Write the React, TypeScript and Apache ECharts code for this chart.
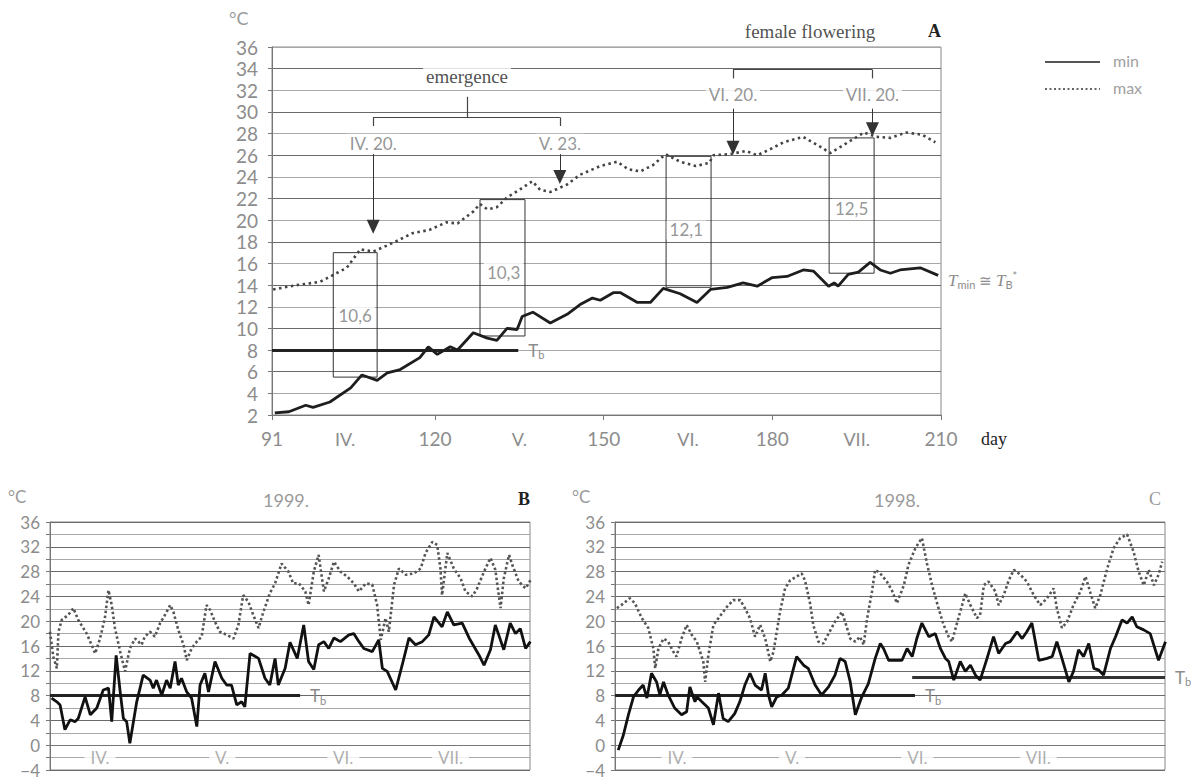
import React, { useEffect, useRef } from 'react';
import * as echarts from 'echarts';

// ---------- Panel A (mean daily min / max) ----------
const aMin: number[][] = [[91.5,2.2],[94,2.3],[97,2.9],[98.3,2.7],[101.3,3.2],[105,4.5],[107,5.7],[109.7,5.2],[111.5,5.9],[113.8,6.2],[117.3,7.3],[118.8,8.3],[120.4,7.6],[122.7,8.3],[124,8.0],[126.8,9.6],[129.3,9.1],[131,8.9],[132.8,10.0],[134.6,9.9],[135.5,11.1],[137.4,11.5],[140.5,10.5],[143.5,11.3],[145.8,12.2],[148,12.8],[149.4,12.6],[151.7,13.3],[153,13.3],[156,12.4],[158.3,12.4],[160.6,13.7],[163.6,13.2],[166.6,12.4],[169,13.6],[172,13.8],[174.8,14.2],[177.3,13.9],[180,14.7],[182.6,14.8],[185.5,15.4],[187.3,15.3],[190,13.9],[191,14.2],[191.7,13.9],[193.5,15],[195.3,15.2],[197.4,16.1],[199.2,15.4],[201,15.1],[202.7,15.4],[206.3,15.6],[209.5,14.9]];
const aMax: number[][] = [[91.2,13.6],[95.4,14.0],[99.5,14.3],[101,14.7],[104.3,15.6],[106.7,17.3],[109,17.1],[112.5,17.9],[116,18.8],[119,19.1],[122,19.8],[124,19.7],[126.8,20.8],[128,21.5],[129.3,21.0],[131,21.2],[132.8,22.1],[135,22.8],[137.3,23.6],[138.7,22.8],[140.5,22.6],[143.5,23.3],[145.8,24.2],[149.4,25.0],[152.4,25.4],[154.4,24.7],[156.5,24.5],[158.8,25.1],[161,26.1],[163.6,25.4],[166.4,25.0],[168.8,25.3],[169.5,26.0],[172.5,26.1],[175.3,26.4],[177.3,26.0],[179.4,26.5],[182,27.2],[185.5,27.7],[188.5,26.8],[190.3,26.2],[192.2,26.8],[194.4,27.5],[196.3,28.1],[198.5,27.7],[201,27.6],[203.8,28.1],[206.6,27.9],[209,27.2]];
const aDayTicks = [91, 120, 150, 180, 210];
const aMonthDays = [104, 135, 165, 195];
const monthNames = ['IV.', 'V.', 'VI.', 'VII.'];
// boxes: [dayFrom, top, dayTo, bottom, label, labelDay, labelTemp]
const aBoxes: (number | string)[][] = [
  [101.9, 17.0, 109.7, 5.5, '10,6', 105.8, 11.2],
  [128, 21.9, 136, 9.3, '10,3', 132.2, 15.2],
  [161.1, 25.9, 169.1, 13.8, '12,1', 164.7, 19.1],
  [190.1, 27.6, 198.1, 15.1, '12,5', 194.1, 21.1],
];
// arrows: [day, from, to, label, labelTemp]
const aArrows: (number | string)[][] = [
  [109, 26.1, 19.4, 'IV. 20.', 27.1],
  [142.2, 26.1, 24.0, 'V. 23.', 27.1],
  [173, 30.3, 26.7, 'VI. 20.', 31.6],
  [197.8, 30.3, 28.4, 'VII. 20.', 31.6],
];
const aTb = [91, 134.8, 8];

// ---------- Panel B (1999) ----------
const bMin: number[][] = [[91.4,7.6],[92.7,7.0],[93.5,6.5],[94.7,2.5],[96,4.1],[97.2,3.8],[98,4.3],[99.7,7.8],[101,4.9],[102.6,6.0],[104.2,8.9],[105.5,9.2],[106.3,3.8],[107.4,14.5],[108.4,8.6],[109.2,4.3],[110,3.8],[110.8,0.3],[112.5,7.0],[114.1,11.3],[115.8,10.5],[116.6,9.2],[117.4,10.5],[118.7,8.1],[119.9,10.5],[120.8,9.2],[122,13.5],[122.8,9.7],[123.6,10.8],[124.9,8.6],[126.1,7.6],[127.4,3.0],[128.2,9.7],[129.4,11.6],[130.3,8.6],[131.9,13.5],[133.6,10.8],[134.8,9.7],[136,9.7],[137.3,6.5],[138.5,7.0],[139.3,6.2],[140.6,14.8],[142.7,14.0],[144.3,10.8],[145.5,9.7],[146.8,14.0],[147.6,9.7],[149.3,12.4],[150.5,16.6],[152.3,14.0],[153.9,19.4],[155.1,13.5],[156.4,12.2],[157.6,16.2],[158.9,16.7],[160.1,15.6],[161.4,17.3],[163,16.7],[165.1,17.8],[166.3,18.0],[167.6,16.7],[168.8,15.6],[170.9,15.1],[172.5,17.0],[173.4,12.4],[174.6,11.9],[176.7,8.9],[178.3,12.9],[180,17.3],[181.6,16.2],[183.3,16.7],[184.9,17.8],[186.2,20.7],[188.2,19.1],[189.5,21.5],[191.1,19.4],[193.2,19.7],[194.9,17.3],[197.3,14.6],[198.6,12.9],[200.2,15.4],[201.4,19.4],[203.5,15.4],[205.1,19.7],[206.4,18.0],[207.6,18.8],[208.9,15.6],[210.1,16.7]];
const bMax: number[][] = [[91,18.3],[91.8,14.3],[92.7,12.4],[93.1,18.3],[93.9,20.2],[95.5,21.0],[96.8,22.1],[98,20.2],[100.1,18.0],[101.3,16.2],[102.2,14.8],[103.4,17.2],[104.6,20.5],[105.5,25.0],[106.3,22.6],[107.1,18.9],[108.4,15.1],[109.6,11.9],[110.8,15.6],[112.1,17.2],[113.7,16.2],[114.5,17.5],[115.8,18.3],[117,17.5],[118.3,19.7],[119.5,21.0],[120.8,22.6],[121.6,21.5],[122.8,18.6],[124.1,16.2],[124.9,13.7],[126.1,15.6],[127.4,16.7],[128.6,17.5],[129.8,22.6],[130.7,21.8],[131.9,19.9],[133.1,18.3],[134.8,17.8],[136.5,17.2],[137.7,19.4],[138.9,24.2],[140.2,23.1],[141.4,21.0],[142.7,18.9],[143.9,21.5],[145.5,24.5],[146.8,26.1],[148.4,29.3],[150.1,28.0],[151.3,26.1],[152.7,26.1],[154.3,24.8],[155.1,22.6],[156.4,28.0],[157.6,30.7],[158.9,24.8],[160.1,26.9],[161.4,29.6],[163,28.0],[164.7,27.2],[166.3,26.1],[167.6,24.8],[169.3,26.1],[170.9,25.9],[172.1,22.6],[173,17.0],[174.2,20.5],[175,18.3],[176.3,25.9],[177.5,28.5],[179.2,27.5],[181.2,27.7],[182.9,28.5],[184.1,31.0],[185.8,32.8],[187,32.3],[187.8,28.5],[188.2,24.2],[189.5,31.0],[191.1,28.5],[192.8,26.9],[194,24.8],[195.7,24.0],[196.9,25.3],[198.6,28.0],[200.2,30.2],[201.4,28.3],[202.7,22.1],[203.5,26.9],[204.8,30.7],[205.6,29.1],[207.2,26.4],[208.9,25.3],[210.1,26.6]];
const bMonthDays = [103.4, 133.7, 163.7, 190.3];
const bTb = [91, 153, 8];

// ---------- Panel C (1998) ----------
const cMin: number[][] = [[91.7,-0.8],[92.8,1.6],[93.9,4.9],[95,7.8],[96.1,8.9],[97.1,9.7],[97.9,7.6],[98.9,11.6],[100,10.2],[100.7,8.1],[101.5,10.2],[102.5,8.1],[103.9,6.0],[105.4,4.9],[106.5,5.4],[107.2,9.4],[108.3,7.0],[108.7,7.8],[109.8,7.0],[111.2,6.0],[112.3,3.3],[113.4,8.4],[114.4,4.3],[115.5,3.8],[116.9,5.1],[118,7.0],[119.1,9.7],[120.2,11.6],[121.3,9.7],[122.7,8.9],[123.5,11.6],[124.2,8.1],[124.9,6.2],[126,7.8],[127.1,8.1],[128.5,9.2],[130.3,14.3],[131.8,12.9],[132.8,12.4],[134.3,9.7],[135.7,8.1],[137.2,9.4],[138.6,11.3],[139.7,14.0],[140.8,13.5],[141.9,10.2],[143,4.9],[144.4,7.8],[145.8,9.9],[147.3,14.0],[148.4,16.4],[149.1,15.6],[150.2,13.7],[151.6,13.7],[153.1,13.7],[154.2,15.6],[155.3,14.3],[156.3,17.2],[157.4,19.7],[158.9,17.5],[160.3,18.0],[161.4,15.6],[162.5,14.0],[163.2,13.5],[164.3,10.5],[165.7,13.5],[166.8,11.9],[167.9,12.9],[169,11.3],[170,10.5],[171.5,14.0],[172.9,17.5],[174,14.8],[175.5,16.4],[176.5,16.7],[178,18.3],[179.1,17.2],[180.1,18.3],[181.2,19.7],[182.7,13.7],[184.5,14.0],[185.6,14.3],[186.6,16.7],[187.7,14.0],[189.2,10.2],[190.2,11.9],[191.3,15.4],[192.4,14.3],[193.5,16.4],[194.6,12.4],[195.7,12.1],[196.7,11.3],[198.2,15.6],[199.3,17.5],[200.7,20.2],[201.8,19.7],[202.9,20.7],[203.9,19.1],[205.4,18.6],[206.8,18.0],[208.6,13.7],[210.1,16.7]];
const cMax: number[][] = [[91.4,22.1],[92.4,22.6],[94.2,23.7],[95.3,22.9],[96.8,20.5],[98.2,18.9],[99.3,15.6],[99.7,12.4],[100.4,15.6],[101.5,17.2],[102.5,16.7],[103.6,15.1],[104.3,14.3],[105.4,17.2],[106.5,19.4],[107.6,17.8],[108.7,16.7],[109.4,15.1],[110.1,13.5],[110.5,10.2],[111.2,14.5],[112.3,19.4],[113.4,20.5],[115.2,22.3],[116.6,23.4],[118.1,23.4],[119.1,22.1],[120.2,20.5],[121.3,17.5],[122.4,19.4],[123.5,17.2],[124.6,13.5],[125.3,15.1],[126,18.3],[126.7,21.5],[127.8,25.3],[128.9,26.6],[130.3,27.2],[131.4,27.7],[132.1,26.6],[133.2,22.9],[133.9,19.4],[135,16.7],[136.1,16.4],[137.2,18.0],[138.6,19.9],[140.1,21.5],[140.8,19.9],[141.9,17.2],[143,16.7],[144,17.5],[144.8,16.2],[145.5,20.2],[146.6,24.8],[147.3,28.3],[148.4,27.7],[149.8,26.4],[150.9,25.0],[152,22.9],[153.5,25.8],[154.5,29.1],[156,31.8],[157.4,33.4],[158.5,29.3],[159.6,25.8],[161,22.1],[162.1,19.4],[163.2,17.5],[163.9,16.7],[165,19.7],[166.1,22.6],[166.8,24.5],[167.9,22.6],[169.3,20.5],[170,21.0],[170.8,25.8],[171.8,26.4],[173.3,24.8],[174,22.6],[175.1,24.2],[176.2,26.6],[177.3,28.3],[178.7,27.5],[180.1,26.4],[181.6,24.2],[183,22.6],[184.5,23.7],[185.9,25.3],[186.6,22.1],[187.7,18.9],[188.8,19.9],[190.2,22.6],[191.7,24.8],[192.8,27.2],[193.9,24.5],[194.9,22.1],[196,24.2],[197.5,28.5],[198.9,31.8],[200.3,33.4],[201.8,34.0],[203.2,31.2],[204.3,28.0],[205.4,25.8],[206.5,28.3],[207.6,25.8],[208.6,27.5],[209.4,29.6]];
const cMonthDays = [104.4, 129.3, 156.4, 182.6];
const cTb1 = [91, 155.9, 8];
const cTb2 = [155.3, 210, 11];

const GRAY = '#8c8c8c';
const LABEL_FONT = 'Lato, "Open Sans", sans-serif';
const SERIF = '"Liberation Serif", "DejaVu Serif", serif';

const tbRich = {
  t: { fontSize: 17, color: GRAY, fontFamily: LABEL_FONT },
  s: { fontSize: 11, color: GRAY, fontFamily: LABEL_FONT, padding: [9, 0, 0, 0] },
};

function gridAxisY(gridIndex: number, min: number, max: number, every: number, fontSize: number, margin: number) {
  return {
    type: 'value', gridIndex, min, max, interval: 2,
    axisLine: { show: true, lineStyle: { color: '#777' } },
    axisTick: { show: true, length: 4, lineStyle: { color: '#777' } },
    axisLabel: {
      color: GRAY, fontSize, fontFamily: LABEL_FONT, margin,
      formatter: (v: number) => (Math.round(v) % every === 0 ? (v < 0 ? '\u2212' + Math.abs(v) : String(v)) : ''),
    },
    splitLine: { show: true, lineStyle: { color: ['#6a6a6a', '#a8a8a8'], width: 1 } },
  };
}

function plainX(gridIndex: number) {
  return {
    type: 'value', gridIndex, min: 91, max: 210,
    axisLabel: { show: false }, axisTick: { show: false },
    axisLine: { show: true, lineStyle: { color: '#777' } },
    splitLine: { show: false },
  };
}

function monthLabelSeries(xi: number, yi: number, days: number[]) {
  return {
    type: 'scatter', xAxisIndex: xi, yAxisIndex: yi, symbolSize: 0, silent: true, clip: false, z: 4,
    data: days.map((d, i) => ({ name: monthNames[i], value: [d, -2] })),
    label: {
      show: true, position: 'inside', formatter: '{b}', color: '#9a9a9a', fontSize: 17,
      fontFamily: LABEL_FONT, backgroundColor: '#fff', padding: [1, 6],
    },
  };
}

function tbLine(from: number[], color: string) {
  return [
    {
      coord: [from[0], from[2]], lineStyle: { width: 3, color, type: 'solid' },
      label: { show: true, position: 'end', distance: 10, formatter: '{t|T}{s|b}', rich: tbRich },
    },
    { coord: [from[1], from[2]] },
  ];
}

export default function App() {
  const ref = useRef<HTMLDivElement>(null);
  useEffect(() => {
    const chart = echarts.init(ref.current!, undefined, { renderer: 'svg' });

    const aMarkLines: any[] = [tbLine(aTb, '#222')];
    aArrows.forEach((a) => {
      aMarkLines.push([
        { coord: [a[0], a[1]], symbol: 'none', lineStyle: { width: 1, color: '#333', type: 'solid' } },
        { coord: [a[0], a[2]], symbol: 'triangle', symbolSize: [13, 14] },
      ]);
    });
    const br = (x1: number, y1: number, x2: number, y2: number) => [
      { coord: [x1, y1], lineStyle: { width: 1.2, color: '#444', type: 'solid' } },
      { coord: [x2, y2] },
    ];
    // emergence bracket
    aMarkLines.push(br(109, 29.5, 142.2, 29.5));
    aMarkLines.push(br(109, 29.5, 109, 28.7));
    aMarkLines.push(br(142.2, 29.5, 142.2, 28.7));
    aMarkLines.push(br(125.7, 31.4, 125.7, 29.5));
    // female flowering bracket
    aMarkLines.push(br(173, 33.9, 197.8, 33.9));
    aMarkLines.push(br(173, 33.9, 173, 33.1));
    aMarkLines.push(br(197.8, 33.9, 197.8, 33.1));
    aMarkLines.push(br(186.2, 36.5, 186.2, 33.9));

    const aLabels: any[] = [];
    aBoxes.forEach((b) => aLabels.push({ name: b[4], value: [b[5], b[6]] }));
    aArrows.forEach((a) => aLabels.push({ name: a[3], value: [a[0], a[4]] }));

    const option: any = {
      animation: false,
      backgroundColor: '#fff',
      textStyle: { fontFamily: LABEL_FONT },
      grid: [
        { left: 272, top: 47, width: 669, height: 368, show: true, borderColor: '#888', borderWidth: 1, containLabel: false },
        { left: 50, top: 522, width: 480, height: 248, show: true, borderColor: '#888', borderWidth: 1, containLabel: false },
        { left: 615, top: 522, width: 550, height: 248, show: true, borderColor: '#888', borderWidth: 1, containLabel: false },
      ],
      xAxis: [
        {
          type: 'value', gridIndex: 0, min: 91, max: 210,
          axisLine: { show: true, lineStyle: { color: '#777' } },
          axisTick: { show: true, customValues: aDayTicks, length: 5, lineStyle: { color: '#777' } },
          axisLabel: { customValues: aDayTicks, color: GRAY, fontSize: 19, fontFamily: LABEL_FONT, margin: 14 },
          splitLine: { show: false },
        },
        {
          type: 'value', gridIndex: 0, min: 91, max: 210, position: 'bottom', offset: 0,
          axisLine: { show: false }, axisTick: { show: false }, splitLine: { show: false },
          axisLabel: {
            customValues: aMonthDays, color: GRAY, fontSize: 18, fontFamily: LABEL_FONT, margin: 15,
            formatter: (v: number) => monthNames[aMonthDays.indexOf(v)] || '',
          },
        },
        plainX(1),
        plainX(2),
      ],
      yAxis: [
        gridAxisY(0, 2, 36, 2, 19, 14),
        gridAxisY(1, -4, 36, 4, 17, 10),
        gridAxisY(2, -4, 36, 4, 17, 10),
      ],
      graphic: [
        { type: 'text', left: 229, top: 9, style: { text: '\u00B0C', fill: '#9a9a9a', fontSize: 18, fontFamily: LABEL_FONT } },
        { type: 'text', left: 928, top: 22, style: { text: 'A', fill: '#222', fontSize: 18, fontWeight: 'bold', fontFamily: SERIF } },
        { type: 'text', left: 981, top: 430, style: { text: 'day', fill: '#222', fontSize: 18, fontFamily: SERIF } },
        // legend
        { type: 'line', shape: { x1: 1045, y1: 62, x2: 1100, y2: 62 }, style: { stroke: '#555', lineWidth: 2 } },
        { type: 'line', shape: { x1: 1045, y1: 89, x2: 1100, y2: 89 }, style: { stroke: '#666', lineWidth: 2, lineDash: [2, 2.5] } },
        { type: 'text', left: 1113, top: 52, style: { text: 'min', fill: '#a0a0a0', fontSize: 16, fontFamily: LABEL_FONT } },
        { type: 'text', left: 1113, top: 79, style: { text: 'max', fill: '#a0a0a0', fontSize: 16, fontFamily: LABEL_FONT } },
        {
          type: 'text', left: 948, top: 270,
          style: {
            text: '{i|T}{s|min}{n| \u2245 }{i|T}{s|B}{p|*}',
            rich: {
              i: { fontSize: 17, fontStyle: 'italic', fill: GRAY, fontFamily: SERIF },
              n: { fontSize: 15, fill: GRAY, fontFamily: LABEL_FONT },
              s: { fontSize: 11, fill: GRAY, fontFamily: LABEL_FONT, padding: [9, 0, 0, 0] },
              p: { fontSize: 11, fill: GRAY, fontFamily: LABEL_FONT, padding: [0, 0, 9, 0] },
            },
          },
        },
        { type: 'text', left: 8, top: 488, style: { text: '\u00B0C', fill: '#9a9a9a', fontSize: 17, fontFamily: LABEL_FONT } },
        { type: 'text', left: 263, top: 491, style: { text: '1999.', fill: '#9a9a9a', fontSize: 18, fontFamily: LABEL_FONT } },
        { type: 'text', left: 518, top: 490, style: { text: 'B', fill: '#222', fontSize: 18, fontWeight: 'bold', fontFamily: SERIF } },
        { type: 'text', left: 572, top: 488, style: { text: '\u00B0C', fill: '#9a9a9a', fontSize: 17, fontFamily: LABEL_FONT } },
        { type: 'text', left: 874, top: 491, style: { text: '1998.', fill: '#9a9a9a', fontSize: 18, fontFamily: LABEL_FONT } },
        { type: 'text', left: 1149, top: 490, style: { text: 'C', fill: '#9a9a9a', fontSize: 18, fontFamily: SERIF } },
      ],
      series: [
        {
          name: 'min', type: 'line', xAxisIndex: 0, yAxisIndex: 0, data: aMin, symbol: 'none', z: 5,
          lineStyle: { color: '#1e1e1e', width: 2.8 }, itemStyle: { color: '#1e1e1e' },
          markLine: { silent: true, symbol: 'none', animation: false, label: { show: false }, data: aMarkLines },
          markArea: {
            silent: true, animation: false, label: { show: false },
            itemStyle: { color: 'rgba(0,0,0,0)', borderColor: '#333', borderWidth: 1 },
            data: aBoxes.map((b) => [{ xAxis: b[0], yAxis: b[1] }, { xAxis: b[2], yAxis: b[3] }]),
          },
        },
        {
          name: 'max', type: 'line', xAxisIndex: 0, yAxisIndex: 0, data: aMax, symbol: 'none', z: 5,
          lineStyle: { color: '#444', width: 2.6, type: [2.5, 3.5] }, itemStyle: { color: '#444' },
        },
        {
          type: 'scatter', xAxisIndex: 0, yAxisIndex: 0, symbolSize: 0, silent: true, clip: false, z: 6,
          data: aLabels,
          label: {
            show: true, position: 'inside', formatter: '{b}', color: '#7a7a7a', fontSize: 17,
            fontFamily: LABEL_FONT, backgroundColor: '#fff', padding: [1, 3],
          },
        },
        {
          type: 'scatter', xAxisIndex: 0, yAxisIndex: 0, symbolSize: 0, silent: true, clip: false, z: 6,
          data: [
            { name: 'emergence', value: [125.7, 33.3] },
            { name: 'female flowering', value: [186.7, 37.4] },
          ],
          label: {
            show: true, position: 'inside', formatter: '{b}', color: '#222', fontSize: 19,
            fontFamily: SERIF, backgroundColor: '#fff', padding: [0, 3],
          },
        },
        // Panel B
        {
          name: 'min 1999', type: 'line', xAxisIndex: 2, yAxisIndex: 1, data: bMin, symbol: 'none', z: 5,
          lineStyle: { color: '#111', width: 2.8 },
          markLine: { silent: true, symbol: 'none', animation: false, data: [tbLine(bTb, '#222')] },
        },
        {
          name: 'max 1999', type: 'line', xAxisIndex: 2, yAxisIndex: 1, data: bMax, symbol: 'none', z: 5,
          lineStyle: { color: '#555', width: 2.6, type: [2.5, 2.5] },
        },
        monthLabelSeries(2, 1, bMonthDays),
        // Panel C
        {
          name: 'min 1998', type: 'line', xAxisIndex: 3, yAxisIndex: 2, data: cMin, symbol: 'none', z: 5,
          lineStyle: { color: '#111', width: 2.8 },
          markLine: {
            silent: true, symbol: 'none', animation: false,
            data: [tbLine(cTb1, '#222'), tbLine(cTb2, '#333')],
          },
        },
        {
          name: 'max 1998', type: 'line', xAxisIndex: 3, yAxisIndex: 2, data: cMax, symbol: 'none', z: 5,
          lineStyle: { color: '#555', width: 2.6, type: [2.5, 2.5] },
        },
        monthLabelSeries(3, 2, cMonthDays),
      ],
    };
    chart.setOption(option);
    return () => chart.dispose();
  }, []);
  return (
    <div
      ref={ref}
      style={{ position: 'absolute', left: 0, top: 0, width: 1198, height: 781, background: '#fff' }}
    />
  );
}
